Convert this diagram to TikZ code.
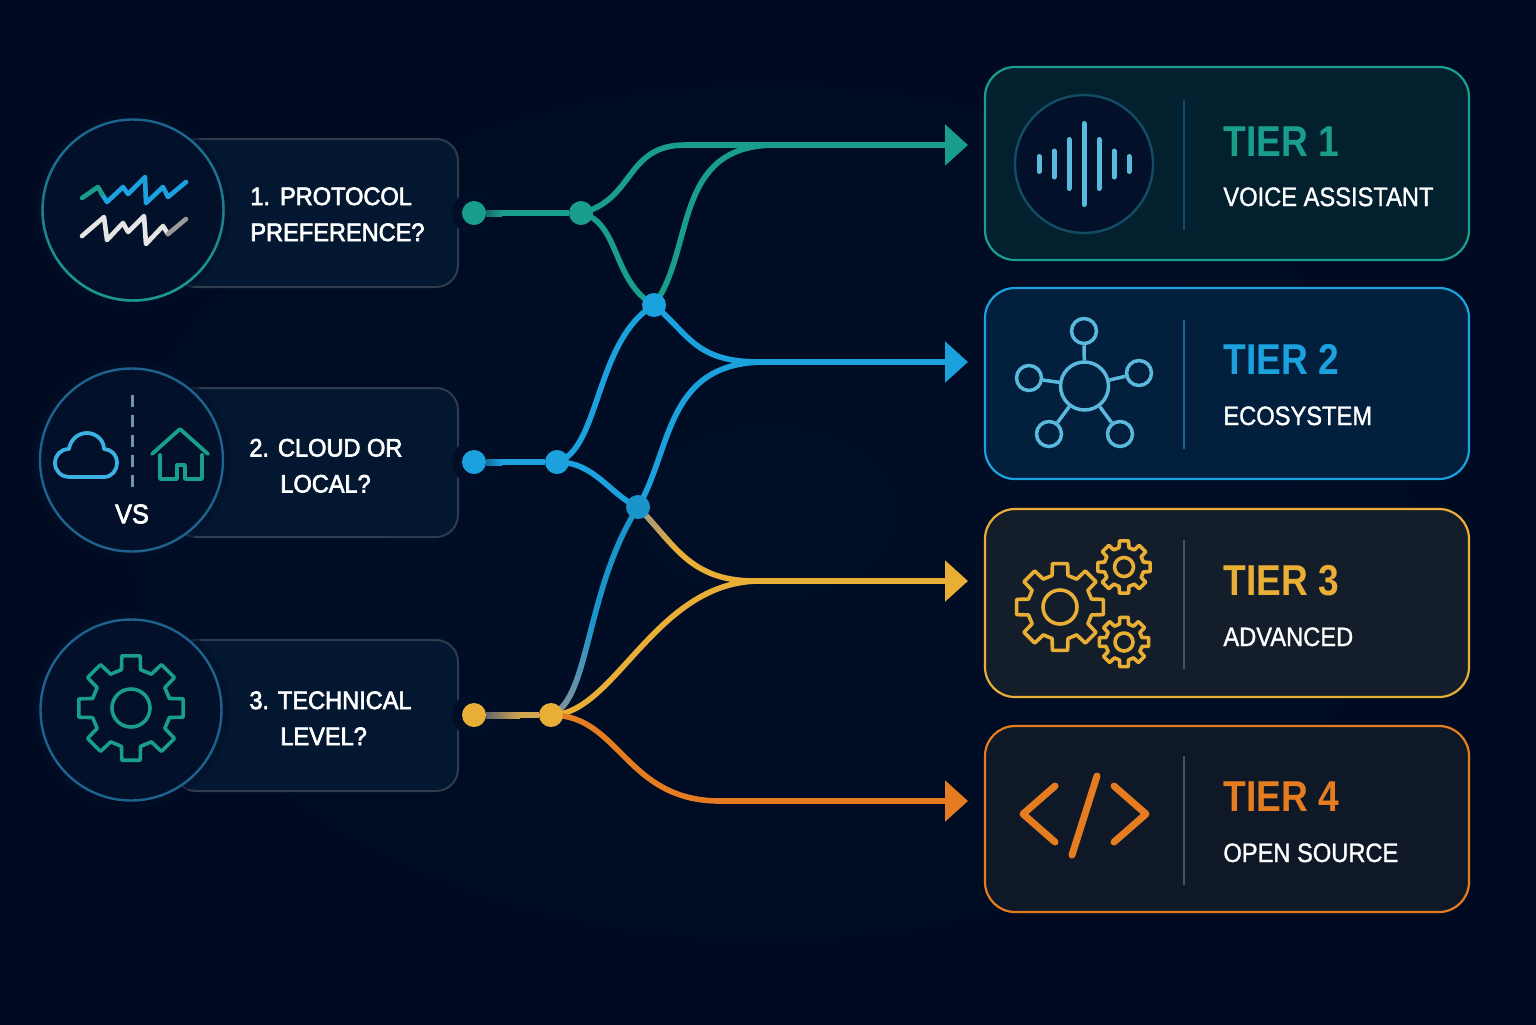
\documentclass[tikz,border=0pt]{standalone}
\usepackage{fontspec}
\setmainfont{Liberation Sans}
\newfontfamily\tierfont[FakeStretch=0.86]{Liberation Sans}
\newfontfamily\subfont[FakeStretch=0.89,FakeBold=1.2]{Liberation Sans}
\newfontfamily\askfont[FakeStretch=0.935,FakeBold=2.6]{Liberation Sans}
\usetikzlibrary{arrows.meta,fadings}
\pgfdeclarelayer{dots}
\pgfsetlayers{main,dots}

\definecolor{pagebg}{HTML}{010E26}
\definecolor{pageedge}{HTML}{000B21}
\definecolor{askfill}{HTML}{031730}
\definecolor{askline}{HTML}{2E3C4E}
\definecolor{ringfill}{HTML}{021029}
\definecolor{ringblue}{HTML}{1E6390}
\definecolor{teal}{HTML}{1A9E8C}
\definecolor{sky}{HTML}{1BA2DE}
\definecolor{gold}{HTML}{E9AE36}
\definecolor{orange}{HTML}{E67C20}
\definecolor{iconblue}{HTML}{5AB9DC}
\definecolor{wiregrey}{HTML}{8A9298}
\definecolor{tierfillA}{HTML}{03202F}
\definecolor{tierfillB}{HTML}{021F3D}
\definecolor{tierfillC}{HTML}{131E2A}
\definecolor{tierfillD}{HTML}{0E1827}
\definecolor{rule}{HTML}{465364}

\tikzset{
  askbox/.style={draw=askline,fill=askfill,line width=1pt,rounded corners=11pt,minimum width=142pt},
  ring/.style={circle,draw=ringblue,fill=ringfill,line width=1.2pt,inner sep=0pt},
  asktext/.style={anchor=base west,inner sep=0pt,align=left,text=white,font=\askfont\fontsize{12.6}{18}\selectfont},
  tierbox/.style={line width=1.1pt,rounded corners=15pt,minimum width=242pt},
  tierhead/.style={anchor=base west,inner sep=0pt,font=\tierfont\bfseries\fontsize{21.6}{24}\selectfont},
  tiersub/.style={anchor=base west,inner sep=0pt,text=white,font=\subfont\fontsize{13.3}{16}\selectfont},
  dot/.style={circle,minimum size=12pt,inner sep=0pt},
  wire/.style={line width=2.8pt},
  tip/.style={-{Triangle[length=11.5pt,width=20pt]}},
  icon/.style={line width=1.9pt,line join=round,line cap=round},
  sat/.style={circle,draw=iconblue,line width=1.75pt,inner sep=0pt}
}

% gear with eight teeth: x, y, tip radius, root radius, hole radius, colour
\newcommand{\gearicon}[6]{
  \begin{scope}[shift={(#1,#2)}]
  \draw[icon,draw=#6,line width=1.8pt] (-14:#4)%
    \foreach \a in {0,45,...,315}{ -- (\a-14:#4) -- (\a-10:#3) -- (\a+10:#3) -- (\a+14:#4) } -- cycle;
  \draw[icon,draw=#6,line width=1.8pt] (0,0) circle (#5);
  \end{scope}
}

\begin{document}
\begin{tikzpicture}
\begin{scope}[x=0.5pt,y=-0.5pt]

\useasboundingbox (0,0) rectangle (1536,1024);
\shade[inner color=pagebg,outer color=pageedge] (0,0) rectangle (1536,1024);

% questions
\node[askbox,minimum height=74pt] (box1) at (316,213) {};
\node[askbox,minimum height=74.5pt] (box2) at (316,462.5) {};
\node[askbox,minimum height=75.5pt] (box3) at (316,715.5) {};

\fill[ringfill,opacity=0.5] (133,210) circle (97);
\fill[ringfill,opacity=0.5] (131.5,460) circle (99);
\fill[ringfill,opacity=0.5] (131,710) circle (98);

\node[ring,minimum size=90.5pt] (ring1) at (133,210) {};
\draw[teal,line width=1.2pt,path fading=north] (133,210) circle (90.5);
\node[ring,minimum size=91.5pt] (ring2) at (131.5,460) {};
\node[ring,minimum size=90.5pt] (ring3) at (131,710) {};

\node[asktext] (ask1) at (250,241) {1.\hspace{5pt}PROTOCOL\\PREFERENCE?};
\node[asktext] (ask2) at (249,492.5) {2.\hspace{4.5pt}CLOUD OR\\\hspace*{15.5pt}LOCAL?};
\node[asktext] (ask3) at (249,745) {3.\hspace{4.5pt}TECHNICAL\\\hspace*{15.5pt}LEVEL?};

% wave icon
\draw[icon,draw=sky,line width=2.3pt]%
(102,194)--(107,202)--(123,187)--(128,194)--(145,177)--(146,203)--(163,187)--(168,197)--(186,182);
\draw[icon,draw=teal,line width=2.3pt]%
(82,198)--(98,187)--(102,194);
\draw[icon,draw=white!90!black,line width=2.3pt]%
(82,236)--(104,217)--(107,240)--(123,223)--(128,232)--(144,216)--(146,244)--(163,226)--(168,234);
\draw[icon,draw=white!60!black,line width=2.3pt]%
(168,234)--(186,219);

% cloud and house
\draw[draw=wiregrey!80!sky,line width=1.5pt,dash pattern=on 6pt off 4pt] (132,395)--(132,490);
\draw[icon,draw=sky!85!white]%
(70,477)--(104,477) .. controls (112,477) and (117,470) .. (117,463)%
.. controls (117,454) and (110,449) .. (104,449) .. controls (104,440) and (96,433) .. (87,433)%
.. controls (77,433) and (70,441) .. (69,449) .. controls (61,449) and (55,455) .. (55,463)%
.. controls (55,471) and (61,477) .. (70,477)--cycle;
\draw[icon,draw=teal] (152,454)--(180,429)--(208,454);
\draw[icon,draw=teal] (160,455)--(160,479)--(177,479)--(177,465)--(185,465)--(185,479)--(202,479)--(202,455);
\node[inner sep=0pt,text=white,font=\askfont\fontsize{13.5}{16}\selectfont] (versus) at (132,514) {VS};

\gearicon{131}{708}{53}{39.5}{19}{teal}

% tiers
\node[tierbox,draw=teal,fill=tierfillA,minimum height=96.5pt] (tier1) at (1227,163.5) {};
\node[tierbox,draw=sky,fill=tierfillB,minimum height=95.5pt] (tier2) at (1227,383.5) {};
\node[tierbox,draw=gold,fill=tierfillC,minimum height=94pt] (tier3) at (1227,603) {};
\node[tierbox,draw=orange,fill=tierfillD,minimum height=93pt] (tier4) at (1227,819) {};

\draw[line width=1pt,draw=ringblue!70!pagebg] (1184,100)--(1184,230);
\draw[line width=1pt,draw=ringblue] (1184,320)--(1184,449);
\draw[line width=1pt,draw=rule] (1184,540)--(1184,669);
\draw[line width=1pt,draw=rule] (1184,756)--(1184,885);

\node[tierhead,text=teal] (head1) at (1223,156) {TIER 1};
\node[tiersub] (sub1) at (1223,206) {VOICE ASSISTANT};
\node[tierhead,text=sky] (head2) at (1223,374) {TIER 2};
\node[tiersub] (sub2) at (1223,425) {ECOSYSTEM};
\node[tierhead,text=gold] (head3) at (1223,595) {TIER 3};
\node[tiersub] (sub3) at (1223,646) {ADVANCED};
\node[tierhead,text=orange] (head4) at (1223,811) {TIER 4};
\node[tiersub] (sub4) at (1223,862) {OPEN SOURCE};

% sound bars
\draw[draw=teal!30!ringblue!60!pagebg,fill=ringfill,line width=1.2pt] (1084,164) circle (69);
\foreach \x/\h in {1039/10,1054/15.5,1069/27,1084/43,1099/27,1114/15.5,1129/10}
  \draw[iconblue,line width=2.5pt,line cap=round] (\x,164-\h+2.5)--(\x,164+\h-2.5);

% hub and spokes
\node[sat,minimum size=24pt] (hub) at (1084.5,386) {};
\node[sat,minimum size=12.5pt] (sat1) at (1084,331) {};
\node[sat,minimum size=12.5pt] (sat2) at (1139,373) {};
\node[sat,minimum size=12.5pt] (sat3) at (1029,378) {};
\node[sat,minimum size=12.5pt] (sat4) at (1049,434) {};
\node[sat,minimum size=12.5pt] (sat5) at (1120,434) {};
\foreach \s in {sat1,sat2,sat3,sat4,sat5}
  \draw[iconblue,line width=1.75pt] (hub)--(\s);

\gearicon{1060}{607}{44}{32.5}{17}{gold}
\gearicon{1124}{567}{26.5}{20}{9.5}{gold}
\gearicon{1124}{642}{25}{18.5}{9}{gold}

% code brackets
\path[draw=orange,line width=3.5pt,line cap=round,line join=round]%
(1055,786)--(1023,814)--(1055,842);
\path[draw=orange,line width=3.5pt,line cap=round]%
(1097,776)--(1072,855);
\path[draw=orange,line width=3.5pt,line cap=round,line join=round]%
(1114,786)--(1146,814)--(1114,842);

% paths
\fill[pagebg] (474,213) circle (22);
\fill[pagebg] (474,462) circle (22);
\fill[pagebg] (474,715) circle (22);

\begin{pgfonlayer}{dots}
\node[dot,fill=teal] (start1) at (474,213) {};
\node[dot,fill=sky] (start2) at (474,462) {};
\node[dot,fill=gold] (start3) at (474,715) {};
\node[dot,fill=teal] (fork1) at (581,213) {};
\node[dot,fill=sky] (fork2) at (557,462) {};
\node[dot,fill=gold] (fork3) at (551,715) {};
\node[dot,fill=sky] (hub1) at (654,305) {};
\node[dot,fill=sky!92!black] (hub2) at (638,507) {};
\end{pgfonlayer}
\coordinate (end1) at (968,145);
\coordinate (end2) at (968,362);
\coordinate (end3) at (968,581);
\coordinate (end4) at (968,801);

\draw[wire,teal] (start1)--(fork1);
\draw[wire,sky] (start2)--(fork2);
\draw[wire,gold!75!wiregrey] (start3)--(fork3);
\shade[left color=teal!65!pagebg,right color=teal] (486,210) rectangle (502,216);
\shade[left color=sky!65!pagebg,right color=sky] (486,459) rectangle (502,465);
\shade[left color=wiregrey!70!black,right color=gold!75!wiregrey] (486,712) rectangle (520,718);

\draw[wire,teal] (fork1.center) .. controls (620,222) and (612,282) .. (hub1.center);
\draw[wire,teal] (hub1.center) .. controls (695,250) and (672,145) .. (775,145);
\draw[wire,tip,teal] (fork1.center) .. controls (635,200) and (625,145) .. (685,145)--(end1);

\draw[wire,sky] (fork2.center) .. controls (600,450) and (595,340) .. (hub1.center);
\draw[wire,sky] (hub2.center) .. controls (672,450) and (665,362) .. (765,362);
\draw[wire,sky] (fork2.center) .. controls (595,462) and (610,495) .. (hub2.center);
\draw[wire,tip,sky] (hub1.center) .. controls (690,335) and (695,362) .. (760,362)--(end2);

\draw[wire,sky!92!black] (fork3.center) .. controls (590,700) and (585,590) .. (hub2.center);
\draw[wire,wiregrey,path fading=north] (fork3.center) .. controls (572.5,707) and (580.6,670) .. (592.4,624);

\draw[wire,gold] (fork3.center) .. controls (615,715) and (655,581) .. (760,581);
\draw[wire,tip,gold] (hub2.center) .. controls (675,545) and (690,581) .. (755,581)--(end3);
\draw[wire,wiregrey,path fading=east] (hub2.center) .. controls (651,520) and (661,533) .. (672,545);
\draw[wire,tip,orange] (fork3.center) .. controls (620,715) and (625,801) .. (720,801)--(end4);

\end{scope}
\end{tikzpicture}
\end{document}
